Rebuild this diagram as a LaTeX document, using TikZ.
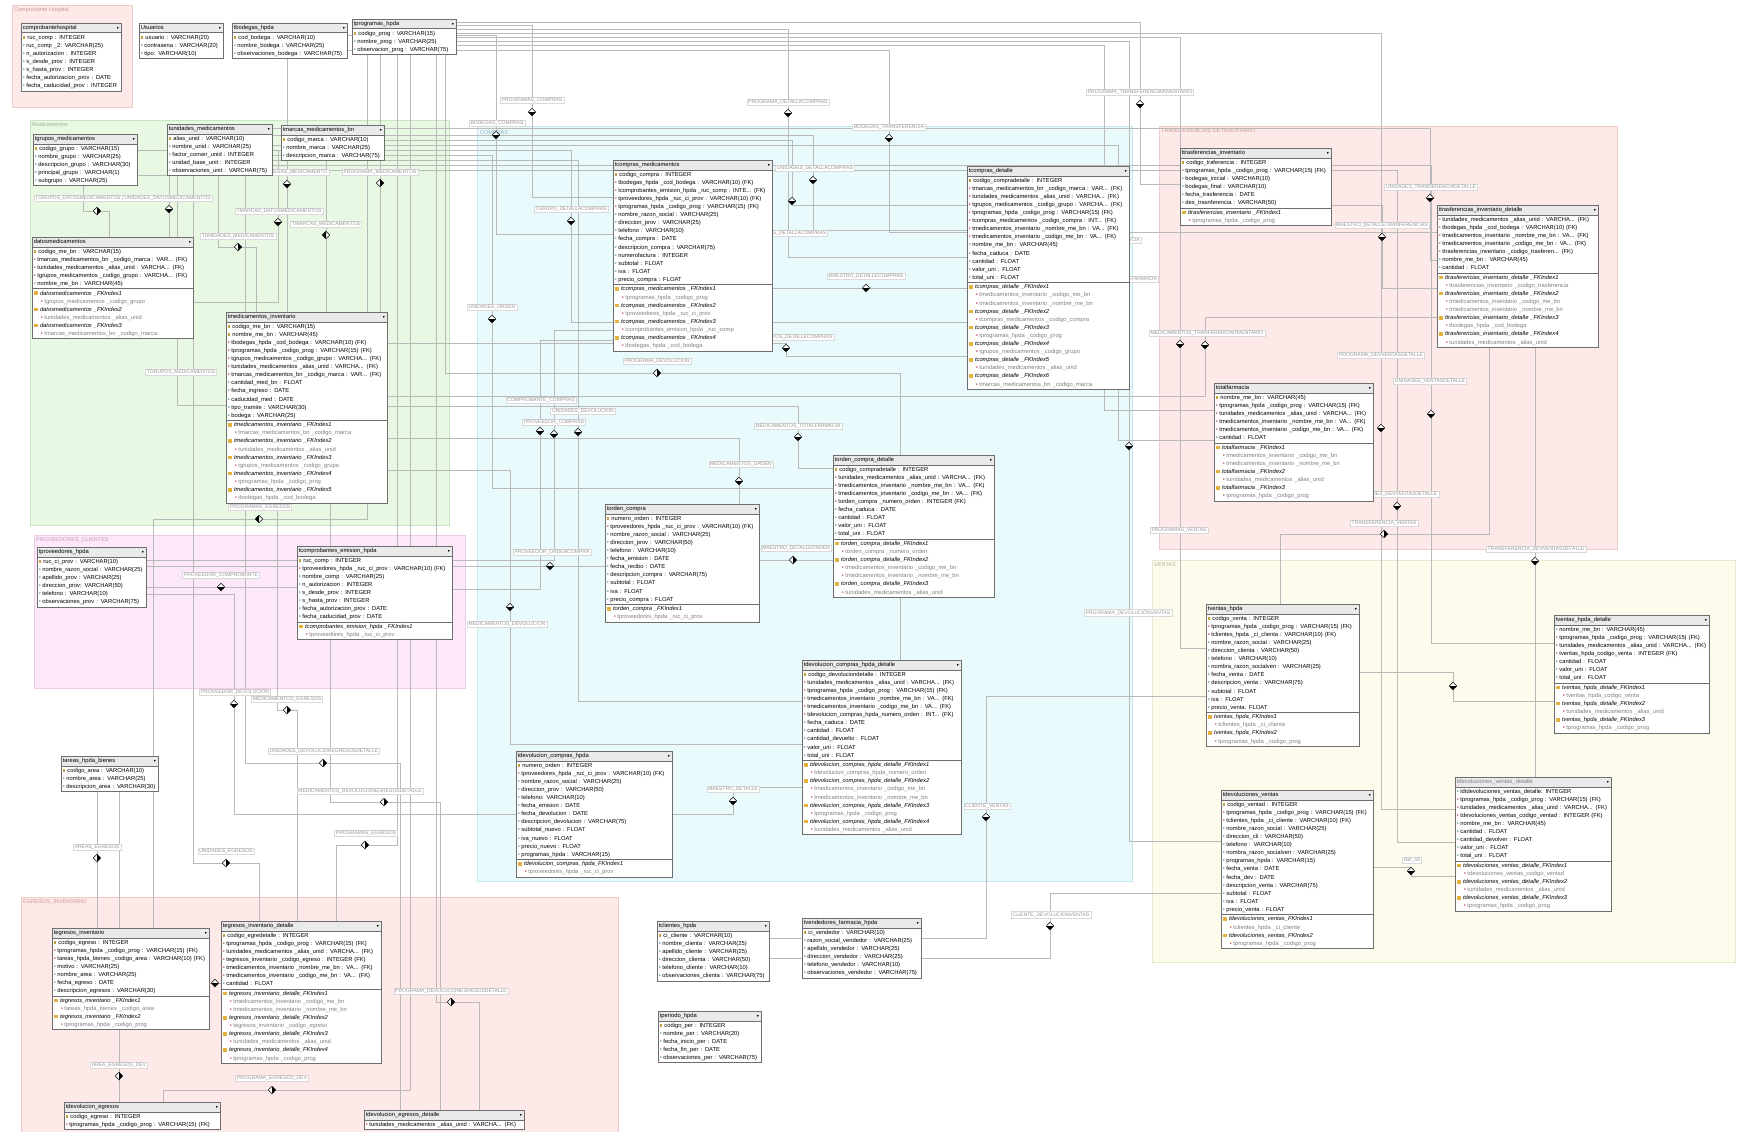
\documentclass[tikz,border=0pt]{standalone}
\usepackage{fontspec}
\setmainfont{Liberation Sans}
\usepackage{amssymb}
\usepackage{xcolor}
\usepackage{tikz}
\usetikzlibrary{shapes.multipart,shapes.geometric}

\definecolor{keyc}{RGB}{196,160,64}
\definecolor{fldc}{RGB}{70,150,170}
\definecolor{fkc}{RGB}{190,80,80}
\definecolor{foldc}{RGB}{226,178,60}
\definecolor{tbd}{RGB}{110,110,110}
\definecolor{hdc}{RGB}{234,234,234}
\definecolor{relc}{RGB}{185,185,185}
\definecolor{lblc}{RGB}{150,150,150}
\definecolor{redfill}{RGB}{253,234,232}
\definecolor{redline}{RGB}{238,202,200}
\definecolor{redt}{RGB}{200,150,150}
\definecolor{grnfill}{RGB}{232,248,226}
\definecolor{grnline}{RGB}{200,230,192}
\definecolor{grnt}{RGB}{150,185,140}
\definecolor{cyafill}{RGB}{232,250,252}
\definecolor{cyaline}{RGB}{196,232,238}
\definecolor{cyat}{RGB}{140,175,185}
\definecolor{magfill}{RGB}{252,232,248}
\definecolor{magline}{RGB}{236,204,232}
\definecolor{magt}{RGB}{200,150,190}
\definecolor{yelfill}{RGB}{252,251,236}
\definecolor{yelline}{RGB}{232,232,206}
\definecolor{yelt}{RGB}{180,180,140}

\setlength{\parindent}{0pt}
\newcommand{\tblfont}{\fontsize{5.8}{8.1}\selectfont}
\newcommand{\lblfont}{\fontsize{5}{6}\selectfont}
\newcommand{\grpfont}{\fontsize{5.5}{6.5}\selectfont}
\newcommand{\hd}[1]{\mbox{\strut#1}\hfill\scalebox{.6}{$\blacktriangledown$}}
\newcommand{\pk}[1]{\mbox{\strut\textcolor{keyc}{\rule[.4pt]{2.6pt}{2.8pt}}\hspace{2pt}#1}\par}
\newcommand{\fd}[1]{\mbox{\strut\textcolor{fldc}{\textbullet}\hspace{1.6pt}#1}\par}
\newcommand{\fk}[1]{\mbox{\strut\textcolor{fkc}{\textbullet}\hspace{1.6pt}#1}\par}
\newcommand{\ix}[1]{\mbox{\strut\textcolor{foldc}{\rule{4.2pt}{3.6pt}}\hspace{2pt}\textit{#1}}\par}
\newcommand{\ic}[1]{\mbox{\strut\hspace{7pt}\textcolor{fkc}{\textbullet}\hspace{1.6pt}\textcolor{gray}{#1}}\par}

\pgfdeclarelayer{bg}
\pgfdeclarelayer{ln}
\pgfsetlayers{bg,ln,main}

\begin{document}
\catcode`\_=12
\begin{tikzpicture}[x=1pt,y=-1pt,
  tbl/.style={rectangle split,rectangle split parts=3,rectangle split part fill={hdc,white,white},draw=tbd,line width=.6pt,anchor=north west,text width=#1,inner xsep=1.5pt,inner ysep=.4pt,font=\tblfont,align=left},
  tbs/.style={tbl=#1,rectangle split parts=2,rectangle split part fill={hdc,white}},
  dm/.style={diamond,draw=black,fill=white,line width=.5pt,inner sep=0pt,minimum width=7.5pt,minimum height=8pt},
  dS/.style={dm,path picture={\fill[black] (path picture bounding box.west) -- (path picture bounding box.south) -- (path picture bounding box.east) -- cycle;}},
  dE/.style={dm,path picture={\fill[black] (path picture bounding box.north) -- (path picture bounding box.east) -- (path picture bounding box.south) -- cycle;}},
  dW/.style={dm,path picture={\fill[black] (path picture bounding box.north) -- (path picture bounding box.west) -- (path picture bounding box.south) -- cycle;}},
  lbl/.style={draw=gray!30,fill=white,text=lblc,font=\lblfont,inner xsep=1.5pt,inner ysep=1pt},
  rel/.style={draw=relc,line width=.5pt},
  gtit/.style={anchor=north west,font=\grpfont,inner sep=1pt}
]
\useasboundingbox (0,0) rectangle (1743,1132);

% groups
\begin{pgfonlayer}{bg}
\fill[white] (0,0) rectangle (1743,1132);
\draw[fill=redfill,draw=redline] (12,5) rectangle (132,107);
\draw[fill=grnfill,draw=grnline] (30,120) rectangle (449,525);
\draw[fill=cyafill,draw=cyaline] (477,126) rectangle (1132,881);
\draw[fill=magfill,draw=magline] (34,535) rectangle (465,688);
\draw[fill=redfill,draw=redline] (1159,126) rectangle (1617,549);
\draw[fill=yelfill,draw=yelline] (1152,560) rectangle (1735,962);
\draw[fill=redfill,draw=redline] (21,897) rectangle (618,1145);
\node[gtit,text=redt] (gHosp) at (13,6) {Comprobante Hospital};
\node[gtit,text=grnt] (gMed) at (31,121) {Medicamentos};
\node[gtit,text=cyat] (gCom) at (479,129) {COMPRAS};
\node[gtit,text=magt] (gProv) at (35,536) {PROVEEDORES_CLIENTES};
\node[gtit,text=redt] (gTra) at (1160,127) {TRANSFERENCIAS DE INVENTARIO};
\node[gtit,text=yelt] (gVen) at (1153,561) {VENTAS};
\node[gtit,text=redt] (gEgr) at (22,898) {EGRESOS_INVENTARIO};
\end{pgfonlayer}

% relation labels
\node[lbl] (lBM) at (295,172) {BODEGAS_MEDICAMENTO};
\node[lbl] (lPM) at (380,172) {PROGRAMA_MEDICAMENTOS};
\node[lbl] (lUD) at (166,198) {TUNIDADES_DATOSMEDICAMENTOS};
\node[lbl] (lGD) at (78,198) {TGRUPOS_DATOSMEDICAMENTOS};
\node[lbl] (lMD) at (279,211) {TMARCAS_DATOSMEDICAMENTOS};
\node[lbl] (lMM) at (326,224) {TMARCAS_MEDICAMENTOS};
\node[lbl] (lUM) at (238,236) {TUNIDADES_MEDICAMENTOS};
\node[lbl] (lGM) at (181,372) {TGRUPOS_MEDICAMENTOS};
\node[lbl] (lPE) at (260,507) {PROGRAMAS_EGRESOS};
\node[lbl] (lPCo) at (221,575) {PROVEEDOR_COMPROBANTE};
\node[lbl] (lPD) at (235,692) {PROVEEDOR_DEVOLUCION};
\node[lbl] (lME) at (287,699) {MEDICAMENTOS_EGRESOS};
\node[lbl] (lUDE) at (324,751) {UNIDADES_DEVOLUCIONEGRESOSDETALLE};
\node[lbl] (lMDE) at (360,791) {MEDICAMENTOS_DEVOLUCIONEGRESOSDETALLE};
\node[lbl] (lPE2) at (366,833) {PROGRAMAS_EGRESOS};
\node[lbl] (lAE) at (97,847) {AREAS_EGRESOS};
\node[lbl] (lUE) at (226,851) {UNIDADES_EGRESOS};
\node[lbl] (lAED) at (119,1065) {AREA_EGRESOS_DEV};
\node[lbl] (lPED) at (272,1078) {PROGRAMA_EGRESOS_DEV};
\node[lbl] (lPDE) at (451,991) {PROGRAMA_DEVOLUCIONEGRESOSDETALLE};
\node[lbl] (lPCm) at (532,100) {PROGRAMAS_COMPRAS};
\node[lbl] (lPDC) at (788,102) {PROGRAMA_DETALLACOMPRAS};
\node[lbl] (lBC) at (497,123) {BODEGAS_COMPRAS};
\node[lbl] (lUDC) at (815,168) {UNIDADES_DETALLACOMPRAS};
\node[lbl] (lGDC) at (571,209) {TGRUPO_DETALLACOMPRAS};
\node[lbl] (lMDC) at (789,233) {TMARCAS_DETALLACOMPRAS};
\node[lbl] (lMaDC) at (866,276) {MAESTRO_DETALLECOMPRAS};
\node[lbl] (lUO) at (492,307) {UNIDADES_ORDEN};
\node[lbl] (lMeDC) at (787,337) {MEDICAMENTOS_DETALLECOMPRAS};
\node[lbl] (lPDv) at (657,361) {PROGRAMA_DEVOLUCION};
\node[lbl] (lBT) at (889,127) {BODEGAS_TRANSFERENCIA};
\node[lbl] (lPTI) at (1140,92) {PROGRAMA_TRANSFERENCIAINVENTARIO};
\node[lbl] (lPTF) at (1103,240) {PROGRAMA_TOTALFARMACIA};
\node[lbl] (lUTF) at (1122,279) {UNIDADES_TOTALFARMACIA};
\node[lbl] (lMTI) at (1207,333) {MEDICAMENTOS_TRANFERENCIAINVENTARIO};
\node[lbl] (lUTD) at (1431,187) {UNIDADES_TRANDERENCIADETALLE};
\node[lbl] (lMDT) at (1382,225) {MAESTRO_DETALLETRANFERENCIAS};
\node[lbl] (lPDVD) at (1381,355) {PROGRAMA_DEVVENTASDETALLE};
\node[lbl] (lUVD) at (1430,381) {UNIDADES_VENTASDETALLE};
\node[lbl] (lUDVD) at (1397,494) {UNIDADES_DEVVENTASDETALLE};
\node[lbl] (lTV) at (1384,523) {TRANSFERENCIA_VENTAS};
\node[lbl] (lTDVD) at (1536,549) {TRANSFERENCIA_DEVVENTASDETALLE};
\node[lbl] (lPV) at (1179,530) {PROGRAMAS_VENTAS};
\node[lbl] (lPDVn) at (1128,613) {PROGRAMA_DEVOLUCIÓNVENTAS};
\node[lbl] (lCC) at (541,400) {COMPROBANTE_COMPRAS};
\node[lbl] (lUDv) at (583,411) {UNIDADES_DEVOLUCION};
\node[lbl] (lPCs) at (554,422) {PROVEEDOR_COMPRAS};
\node[lbl] (lMTF) at (798,426) {MEDICAMENTOS_TOTALFARMACIA};
\node[lbl] (lMO) at (741,464) {MEDICAMENTOS_ORDEN};
\node[lbl] (lPOC) at (552,552) {PROVEEDOR_ORDENCOMPRA};
\node[lbl] (lMDO) at (796,548) {MAESTRO_DETALLEORDEN};
\node[lbl] (lMDv) at (507,624) {MEDICAMENTOS_DEVOLUCION};
\node[lbl] (lMaD) at (733,789) {MAESTRO_DETALLE};
\node[lbl] (lCV) at (987,806) {CLIENTE_VENTAS};
\node[lbl] (lCDV) at (1051,915) {CLIENTE_DEVOLUCIÓNVENTAS};
\node[lbl] (lR58) at (1412,860) {Rel_58};

% relation diamonds
\node[dS] (d1) at (287,184) {};
\node[dE] (d2) at (380,183) {};
\node[dE] (d3) at (97,211) {};
\node[dS] (d4) at (169,209) {};
\node[dS] (d5) at (278,222) {};
\node[dW] (d6) at (326,235) {};
\node[dE] (d7) at (238,247) {};
\node[dW] (d9) at (259,519) {};
\node[dS] (d10) at (221,587) {};
\node[dS] (d11) at (234,704) {};
\node[dE] (d12) at (287,710) {};
\node[dE] (d13) at (323,763) {};
\node[dE] (d14) at (384,802) {};
\node[dE] (d15) at (365,845) {};
\node[dE] (d16) at (97,858) {};
\node[dE] (d17) at (226,863) {};
\node[dS] (d18) at (215,983) {};
\node[dE] (d19) at (119,1076) {};
\node[dE] (d20) at (272,1090) {};
\node[dE] (d21) at (451,1002) {};
\node[dS] (d22) at (532,112) {};
\node[dS] (d23) at (496,135) {};
\node[dS] (d24) at (788,113) {};
\node[dS] (d25) at (792,201) {};
\node[dS] (d26) at (813,180) {};
\node[dS] (d27) at (571,221) {};
\node[dS] (d28) at (866,288) {};
\node[dS] (d29) at (492,319) {};
\node[dS] (d30) at (786,348) {};
\node[dE] (d31) at (657,373) {};
\node[dS] (d32) at (540,431) {};
\node[dS] (d33) at (554,434) {};
\node[dS] (d34) at (578,432) {};
\node[dS] (d35) at (798,437) {};
\node[dS] (d36) at (739,481) {};
\node[dS] (d37) at (550,566) {};
\node[dE] (d38) at (793,560) {};
\node[dS] (d39) at (510,607) {};
\node[dS] (d40) at (733,801) {};
\node[dS] (d41) at (986,817) {};
\node[dS] (d42) at (1050,926) {};
\node[dS] (d43) at (1140,104) {};
\node[dS] (d44) at (889,138) {};
\node[dS] (d45) at (1382,237) {};
\node[dS] (d46) at (1430,198) {};
\node[dS] (d47) at (1431,414) {};
\node[dS] (d48) at (1453,686) {};
\node[dS] (d49) at (1381,428) {};
\node[dS] (d50) at (1397,506) {};
\node[dE] (d51) at (1384,534) {};
\node[dS] (d52) at (1535,561) {};
\node[dS] (d53) at (1411,871) {};
\node[dS] (d54) at (1180,344) {};
\node[dS] (d55) at (1129,446) {};
\node[dS] (d56) at (1104,252) {};
\node[dS] (d57) at (1118,291) {};
\node[dS] (d58) at (1205,345) {};

% tables
\node[tbs=96.5pt] (chosp) at (21,23) {\hd{comprobantehospital}
  \nodepart{two}\pk{ruc_comp : INTEGER}\fd{ruc_comp _2: VARCHAR(25)}\fd{n_autorizacion : INTEGER}\fd{s_desde_prov : INTEGER}\fd{s_hasta_prov : INTEGER}\fd{fecha_autorizacion_prov : DATE}\fd{fecha_caducidad_prov : INTEGER}};
\node[tbs=80.5pt] (usu) at (139,23) {\hd{Usuarios}
  \nodepart{two}\pk{usuario : VARCHAR(20)}\fd{contrasena : VARCHAR(20)}\fd{tipo: VARCHAR(10)}};
\node[tbs=111.5pt] (tbod) at (232,23) {\hd{tbodegas_hpda}
  \nodepart{two}\pk{cod_bodega : VARCHAR(10)}\fd{nombre_bodega : VARCHAR(25)}\fd{observaciones_bodega : VARCHAR(75)}};
\node[tbs=100.5pt] (tprog) at (352,19) {\hd{tprogramas_hpda}
  \nodepart{two}\pk{codigo_prog : VARCHAR(15)}\fd{nombre_prog : VARCHAR(25)}\fd{observacion_prog : VARCHAR(75)}};
\node[tbs=100.5pt] (tgr) at (33,134) {\hd{tgrupos_medicamentos}
  \nodepart{two}\pk{codigo_grupo : VARCHAR(15)}\fd{nombre_grupo : VARCHAR(25)}\fd{descripcion_grupo : VARCHAR(30)}\fd{principal_grupo : VARCHAR(1)}\fd{subgrupo : VARCHAR(25)}};
\node[tbs=101.5pt] (tunid) at (167,124) {\hd{tunidades_medicamentos}
  \nodepart{two}\pk{alias_unid : VARCHAR(10)}\fd{nombre_unid : VARCHAR(25)}\fd{factor_conver_unid : INTEGER}\fd{unidad_base_unit : INTEGER}\fd{observaciones_unit : VARCHAR(75)}};
\node[tbs=99.5pt] (tmar) at (281,125) {\hd{tmarcas_medicamentos_bn}
  \nodepart{two}\pk{codigo_marca : VARCHAR(10)}\fd{nombre_marca : VARCHAR(25)}\fd{descripcion_marca : VARCHAR(75)}};
\node[tbl=157.5pt] (datm) at (32,237) {\hd{datosmedicamentos}
  \nodepart{two}\pk{codigo_me_bn : VARCHAR(15)}\fk{tmarcas_medicamentos_bn _codigo_marca : VAR... (FK)}\fk{tunidades_medicamentos _alias_unid : VARCHA... (FK)}\fk{tgrupos_medicamentos _codigo_grupo : VARCHA... (FK)}\fd{nombre_me_bn : VARCHAR(45)}
  \nodepart{three}\ix{datosmedicamentos _FKIndex1}\ic{tgrupos_medicamentos _codigo_grupo}\ix{datosmedicamentos _FKIndex2}\ic{tunidades_medicamentos _alias_unid}\ix{datosmedicamentos _FKIndex3}\ic{tmarcas_medicamentos_bn _codigo_marca}};
\node[tbl=157.5pt] (tmed) at (226,312) {\hd{tmedicamentos_inventario}
  \nodepart{two}\pk{codigo_me_bn : VARCHAR(15)}\pk{nombre_me_bn : VARCHAR(45)}\fk{tbodegas_hpda _cod_bodega : VARCHAR(10) (FK)}\fk{tprogramas_hpda _codigo_prog : VARCHAR(15) (FK)}\fk{tgrupos_medicamentos _codigo_grupo : VARCHA... (FK)}\fk{tunidades_medicamentos _alias_unid : VARCHA... (FK)}\fk{tmarcas_medicamentos_bn _codigo_marca : VAR... (FK)}\fd{cantidad_med_bn : FLOAT}\fd{fecha_ingreso : DATE}\fd{caducidad_med : DATE}\fd{tipo_tramite : VARCHAR(30)}\fd{bodega : VARCHAR(25)}
  \nodepart{three}\ix{tmedicamentos_inventario _FKIndex1}\ic{tmarcas_medicamentos_bn _codigo_marca}\ix{tmedicamentos_inventario _FKIndex2}\ic{tunidades_medicamentos _alias_unid}\ix{tmedicamentos_inventario _FKIndex3}\ic{tgrupos_medicamentos _codigo_grupo}\ix{tmedicamentos_inventario _FKIndex4}\ic{tprogramas_hpda _codigo_prog}\ix{tmedicamentos_inventario _FKIndex5}\ic{tbodegas_hpda _cod_bodega}};
\node[tbs=105.5pt] (tprov) at (37,547) {\hd{tproveedores_hpda}
  \nodepart{two}\pk{ruc_ci_prov : VARCHAR(10)}\fd{nombre_razon_social : VARCHAR(25)}\fd{apellido_prov : VARCHAR(25)}\fd{direccion_prov: VARCHAR(50)}\fd{telefono : VARCHAR(10)}\fd{observaciones_prov : VARCHAR(75)}};
\node[tbl=151.5pt] (tcem) at (297,546) {\hd{tcomprobantes_emision_hpda}
  \nodepart{two}\pk{ruc_comp : INTEGER}\fk{tproveedores_hpda _ruc_ci_prov : VARCHAR(10) (FK)}\fd{nombre_comp : VARCHAR(25)}\fd{n_autorizacion : INTEGER}\fd{s_desde_prov : INTEGER}\fd{s_hasta_prov : INTEGER}\fd{fecha_autorizacion_prov : DATE}\fd{fecha_caducidad_prov : DATE}
  \nodepart{three}\ix{tcomprobantes_emision_hpda _FKIndex1}\ic{tproveedores_hpda _ruc_ci_prov}};
\node[tbl=155.5pt] (tcm) at (613,160) {\hd{tcompras_medicamentos}
  \nodepart{two}\pk{codigo_compra  : INTEGER}\fk{tbodegas_hpda _cod_bodega : VARCHAR(10) (FK)}\fk{tcomprobantes_emision_hpda _ruc_comp : INTE... (FK)}\fk{tproveedores_hpda _ruc_ci_prov : VARCHAR(10) (FK)}\fk{tprogramas_hpda _codigo_prog : VARCHAR(15) (FK)}\fd{nombre_razon_social : VARCHAR(25)}\fd{direccion_prov  : VARCHAR(25)}\fd{telefono : VARCHAR(10)}\fd{fecha_compra : DATE}\fd{descripcion_compra : VARCHAR(75)}\fd{numerofactura : INTEGER}\fd{subtotal : FLOAT}\fd{iva : FLOAT}\fd{precio_compra : FLOAT}
  \nodepart{three}\ix{tcompras_medicamentos _FKIndex1}\ic{tprogramas_hpda _codigo_prog}\ix{tcompras_medicamentos _FKIndex2}\ic{tproveedores_hpda _ruc_ci_prov}\ix{tcompras_medicamentos _FKIndex3}\ic{tcomprobantes_emision_hpda _ruc_comp}\ix{tcompras_medicamentos _FKIndex4}\ic{tbodegas_hpda _cod_bodega}};
\node[tbl=158.5pt] (tcd) at (967,166) {\hd{tcompras_detalle}
  \nodepart{two}\pk{codigo_compradetalle : INTEGER}\fk{tmarcas_medicamentos_bn _codigo_marca : VAR... (FK)}\fk{tunidades_medicamentos _alias_unid : VARCHA... (FK)}\fk{tgrupos_medicamentos _codigo_grupo : VARCHA... (FK)}\fk{tprogramas_hpda _codigo_prog : VARCHAR(15) (FK)}\fk{tcompras_medicamentos _codigo_compra  : INT... (FK)}\fk{tmedicamentos_inventario _nombre_me_bn : VA... (FK)}\fk{tmedicamentos_inventario _codigo_me_bn : VA... (FK)}\fd{nombre_me_bn : VARCHAR(45)}\fd{fecha_caduca : DATE}\fd{cantidad : FLOAT}\fd{valor_uni : FLOAT}\fd{total_uni : FLOAT}
  \nodepart{three}\ix{tcompras_detalle _FKIndex1}\ic{tmedicamentos_inventario _codigo_me_bn}\ic{tmedicamentos_inventario _nombre_me_bn}\ix{tcompras_detalle _FKIndex2}\ic{tcompras_medicamentos _codigo_compra}\ix{tcompras_detalle _FKIndex3}\ic{tprogramas_hpda _codigo_prog}\ix{tcompras_detalle _FKIndex4}\ic{tgrupos_medicamentos _codigo_grupo}\ix{tcompras_detalle _FKIndex5}\ic{tunidades_medicamentos _alias_unid}\ix{tcompras_detalle _FKIndex6}\ic{tmarcas_medicamentos_bn _codigo_marca}};
\node[tbl=147.5pt] (ttr) at (1180,148) {\hd{ttrasferencias_inventario}
  \nodepart{two}\pk{codigo_traferencia : INTEGER}\fk{tprogramas_hpda _codigo_prog : VARCHAR(15) (FK)}\fd{bodegas_inicial : VARCHAR(10)}\fd{bodegas_final : VARCHAR(10)}\fd{fecha_trasferencia : DATE}\fd{des_trasnferencia : VARCHAR(50)}
  \nodepart{three}\ix{ttrasferencias_inventario _FKIndex1}\ic{tprogramas_hpda _codigo_prog}};
\node[tbl=157.5pt] (ttd) at (1437,205) {\hd{ttrasferencias_inventario_detalle}
  \nodepart{two}\fk{tunidades_medicamentos _alias_unid : VARCHA... (FK)}\fk{tbodegas_hpda _cod_bodega : VARCHAR(10) (FK)}\fk{tmedicamentos_inventario _nombre_me_bn : VA... (FK)}\fk{tmedicamentos_inventario _codigo_me_bn : VA... (FK)}\fk{ttrasferencias_inventario _codigo_trasferen... (FK)}\fd{nombre_me_bn : VARCHAR(45)}\fd{cantidad : FLOAT}
  \nodepart{three}\ix{ttrasferencias_inventario_detalle _FKIndex1}\ic{ttrasferencias_inventario _codigo_trasferencia}\ix{ttrasferencias_inventario_detalle _FKIndex2}\ic{tmedicamentos_inventario _codigo_me_bn}\ic{tmedicamentos_inventario _nombre_me_bn}\ix{ttrasferencias_inventario_detalle _FKIndex3}\ic{tbodegas_hpda _cod_bodega}\ix{ttrasferencias_inventario_detalle _FKIndex4}\ic{tunidades_medicamentos _alias_unid}};
\node[tbl=155.5pt] (tfar) at (1214,383) {\hd{totalfarmacia}
  \nodepart{two}\pk{nombre_me_bn : VARCHAR(45)}\fk{tprogramas_hpda _codigo_prog : VARCHAR(15) (FK)}\fk{tunidades_medicamentos _alias_unid : VARCHA... (FK)}\fk{tmedicamentos_inventario _nombre_me_bn : VA... (FK)}\fk{tmedicamentos_inventario _codigo_me_bn : VA... (FK)}\fd{cantidad : FLOAT}
  \nodepart{three}\ix{totalfarmacia _FKIndex1}\ic{tmedicamentos_inventario _codigo_me_bn}\ic{tmedicamentos_inventario _nombre_me_bn}\ix{totalfarmacia _FKIndex2}\ic{tunidades_medicamentos _alias_unid}\ix{totalfarmacia _FKIndex3}\ic{tprogramas_hpda _codigo_prog}};
\node[tbl=150.5pt] (tord) at (605,504) {\hd{torden_compra}
  \nodepart{two}\pk{numero_orden : INTEGER}\fk{tproveedores_hpda _ruc_ci_prov : VARCHAR(10) (FK)}\fd{nombre_razon_social : VARCHAR(25)}\fd{direccion_prov : VARCHAR(50)}\fd{telefono : VARCHAR(10)}\fd{fecha_emision : DATE}\fd{fecha_recibo : DATE}\fd{descripcion_compra : VARCHAR(75)}\fd{subtotal : FLOAT}\fd{iva : FLOAT}\fd{precio_compra : FLOAT}
  \nodepart{three}\ix{torden_compra _FKIndex1}\ic{tproveedores_hpda _ruc_ci_prov}};
\node[tbl=157.5pt] (tocd) at (833,455) {\hd{torden_compra_detalle}
  \nodepart{two}\pk{codigo_compradetalle : INTEGER}\fk{tunidades_medicamentos _alias_unid : VARCHA... (FK)}\fk{tmedicamentos_inventario _nombre_me_bn : VA... (FK)}\fk{tmedicamentos_inventario _codigo_me_bn : VA... (FK)}\fk{torden_compra _numero_orden : INTEGER (FK)}\fd{fecha_caduca : DATE}\fd{cantidad : FLOAT}\fd{valor_uni : FLOAT}\fd{total_uni : FLOAT}
  \nodepart{three}\ix{torden_compra_detalle_FKIndex1}\ic{torden_compra _numero_orden}\ix{torden_compra_detalle_FKIndex2}\ic{tmedicamentos_inventario _codigo_me_bn}\ic{tmedicamentos_inventario _nombre_me_bn}\ix{torden_compra_detalle_FKIndex3}\ic{tunidades_medicamentos _alias_unid}};
\node[tbl=155.5pt] (tdcd) at (802,660) {\hd{tdevolucion_compras_hpda_detalle}
  \nodepart{two}\pk{codigo_devoluciondetalle : INTEGER}\fk{tunidades_medicamentos _alias_unid : VARCHA... (FK)}\fk{tprogramas_hpda _codigo_prog : VARCHAR(15) (FK)}\fk{tmedicamentos_inventario _nombre_me_bn : VA... (FK)}\fk{tmedicamentos_inventario _codigo_me_bn : VA... (FK)}\fk{tdevolucion_compras_hpda_numero_orden : INT... (FK)}\fd{fecha_caduca : DATE}\fd{cantidad : FLOAT}\fd{cantidad_devuelto : FLOAT}\fd{valor_uni : FLOAT}\fd{total_uni : FLOAT}
  \nodepart{three}\ix{tdevolucion_compras_hpda_detalle_FKIndex1}\ic{tdevolucion_compras_hpda_numero_orden}\ix{tdevolucion_compras_hpda_detalle_FKIndex2}\ic{tmedicamentos_inventario _codigo_me_bn}\ic{tmedicamentos_inventario _nombre_me_bn}\ix{tdevolucion_compras_hpda_detalle_FKIndex3}\ic{tprogramas_hpda _codigo_prog}\ix{tdevolucion_compras_hpda_detalle_FKIndex4}\ic{tunidades_medicamentos _alias_unid}};
\node[tbl=152.5pt] (tdc) at (516,751) {\hd{tdevolucion_compras_hpda}
  \nodepart{two}\pk{numero_orden : INTEGER}\fk{tproveedores_hpda _ruc_ci_prov : VARCHAR(10) (FK)}\fd{nombre_razon_social : VARCHAR(25)}\fd{direccion_prov : VARCHAR(50)}\fd{telefono: VARCHAR(10)}\fd{fecha_emision : DATE}\fd{fecha_devolucion : DATE}\fd{descripcion_devolucion : VARCHAR(75)}\fd{subtotal_nuevo : FLOAT}\fd{iva_nuevo : FLOAT}\fd{precio_nuevo : FLOAT}\fd{programas_hpda : VARCHAR(15)}
  \nodepart{three}\ix{tdevolucion_compras_hpda_FKIndex1}\ic{tproveedores_hpda _ruc_ci_prov}};
\node[tbs=108.5pt] (tcli) at (657,921) {\hd{tclientes_hpda}
  \nodepart{two}\pk{ci_cliente : VARCHAR(10)}\fd{nombre_clienta : VARCHAR(25)}\fd{apellido_cliente : VARCHAR(25)}\fd{direccion_clienta : VARCHAR(50)}\fd{telefono_cliente : VARCHAR(10)}\fd{observaciones_clienta : VARCHAR(75)}};
\node[tbs=115.5pt] (tven) at (802,918) {\hd{tvendedores_farmacia_hpda}
  \nodepart{two}\pk{ci_vendedor : VARCHAR(10)}\fd{razon_social_vendedor : VARCHAR(25)}\fd{apellido_vendedor : VARCHAR(25)}\fd{direccion_vendedor : VARCHAR(25)}\fd{telefono_vendedor : VARCHAR(10)}\fd{observaciones_vendedor : VARCHAR(75)}};
\node[tbs=99.5pt] (tper) at (658,1011) {\hd{tperiodo_hpda}
  \nodepart{two}\pk{codigo_per : INTEGER}\fd{nombre_per : VARCHAR(20)}\fd{fecha_inicio_per : DATE}\fd{fecha_fin_per : DATE}\fd{observaciones_per : VARCHAR(75)}};
\node[tbl=149.5pt] (tvh) at (1206,604) {\hd{tventas_hpda}
  \nodepart{two}\pk{codigo_venta  : INTEGER}\fk{tprogramas_hpda _codigo_prog : VARCHAR(15) (FK)}\fk{tclientes_hpda _ci_clienta : VARCHAR(10) (FK)}\fd{nombre_razon_social : VARCHAR(25)}\fd{direccion_clienta : VARCHAR(50)}\fd{telefono : VARCHAR(10)}\fd{nombra_razon_socialven : VARCHAR(25)}\fd{fecha_venta : DATE}\fd{descripcion_venta : VARCHAR(75)}\fd{subtotal : FLOAT}\fd{iva : FLOAT}\fd{precio_venta: FLOAT}
  \nodepart{three}\ix{tventas_hpda_FKIndex1}\ic{tclientes_hpda _ci_clienta}\ix{tventas_hpda_FKIndex2}\ic{tprogramas_hpda _codigo_prog}};
\node[tbl=151.5pt] (tvhd) at (1554,615) {\hd{tventas_hpda_detalle}
  \nodepart{two}\fd{nombre_me_bn : VARCHAR(45)}\fk{tprogramas_hpda _codigo_prog : VARCHAR(15) (FK)}\fk{tunidades_medicamentos _alias_unid : VARCHA... (FK)}\fk{tventas_hpda_codigo_venta  : INTEGER (FK)}\fd{cantidad : FLOAT}\fd{valor_uni : FLOAT}\fd{total_uni : FLOAT}
  \nodepart{three}\ix{tventas_hpda_detalle_FKIndex1}\ic{tventas_hpda_codigo_venta}\ix{tventas_hpda_detalle_FKIndex2}\ic{tunidades_medicamentos _alias_unid}\ix{tventas_hpda_detalle_FKIndex3}\ic{tprogramas_hpda _codigo_prog}};
\node[tbl=148.5pt] (tdv) at (1221,790) {\hd{tdevoluciones_ventas}
  \nodepart{two}\pk{codigo_ventad  : INTEGER}\fk{tprogramas_hpda _codigo_prog : VARCHAR(15) (FK)}\fk{tclientes_hpda _ci_cliente : VARCHAR(10) (FK)}\fd{nombre_razon_social : VARCHAR(25)}\fd{direccion_cli : VARCHAR(50)}\fd{telefono : VARCHAR(10)}\fd{nombra_razon_socialven : VARCHAR(25)}\fd{programas_hpda : VARCHAR(15)}\fd{fecha_venta : DATE}\fd{fecha_dev : DATE}\fd{descripcion_venta : VARCHAR(75)}\fd{subtotal : FLOAT}\fd{iva : FLOAT}\fd{precio_venta : FLOAT}
  \nodepart{three}\ix{tdevoluciones_ventas_FKIndex1}\ic{tclientes_hpda _ci_cliente}\ix{tdevoluciones_ventas_FKIndex2}\ic{tprogramas_hpda _codigo_prog}};
\node[tbl=152.5pt] (tdvd) at (1455,777) {\hd{\textcolor{gray}{tdevoluciones_ventas_detalle}}
  \nodepart{two}\fd{idtdevoluciones_ventas_detalle: INTEGER}\fk{tprogramas_hpda _codigo_prog : VARCHAR(15) (FK)}\fk{tunidades_medicamentos _alias_unid : VARCHA... (FK)}\fk{tdevoluciones_ventas_codigo_ventad  : INTEGER (FK)}\fd{nombre_me_bn : VARCHAR(45)}\fd{cantidad : FLOAT}\fd{cantidad_devolver : FLOAT}\fd{valor_uni : FLOAT}\fd{total_uni : FLOAT}
  \nodepart{three}\ix{tdevoluciones_ventas_detalle_FKIndex1}\ic{tdevoluciones_ventas_codigo_ventad}\ix{tdevoluciones_ventas_detalle_FKIndex2}\ic{tunidades_medicamentos _alias_unid}\ix{tdevoluciones_ventas_detalle_FKIndex3}\ic{tprogramas_hpda _codigo_prog}};
\node[tbs=93.5pt] (tare) at (61,756) {\hd{tareas_hpda_bienes}
  \nodepart{two}\pk{codigo_area : VARCHAR(10)}\fd{nombre_area : VARCHAR(25)}\fd{descripcion_area : VARCHAR(30)}};
\node[tbl=153.5pt] (teg) at (52,928) {\hd{tegresos_inventario}
  \nodepart{two}\pk{codigo_egreso : INTEGER}\fk{tprogramas_hpda _codigo_prog : VARCHAR(15) (FK)}\fk{tareas_hpda_bienes _codigo_area : VARCHAR(10) (FK)}\fd{motivo : VARCHAR(25)}\fd{nombre_area : VARCHAR(25)}\fd{fecha_egreso : DATE}\fd{descripcion_egresos : VARCHAR(30)}
  \nodepart{three}\ix{tegresos_inventario _FKIndex1}\ic{tareas_hpda_bienes _codigo_area}\ix{tegresos_inventario _FKIndex2}\ic{tprogramas_hpda _codigo_prog}};
\node[tbl=156.5pt] (tegd) at (221,921) {\hd{tegresos_inventario_detalle}
  \nodepart{two}\pk{codigo_egredetalle : INTEGER}\fk{tprogramas_hpda _codigo_prog : VARCHAR(15) (FK)}\fk{tunidades_medicamentos _alias_unid : VARCHA... (FK)}\fk{tegresos_inventario _codigo_egreso : INTEGER (FK)}\fk{tmedicamentos_inventario _nombre_me_bn : VA... (FK)}\fk{tmedicamentos_inventario _codigo_me_bn : VA... (FK)}\fd{cantidad : FLOAT}
  \nodepart{three}\ix{tegresos_inventario_detalle_FKIndex1}\ic{tmedicamentos_inventario _codigo_me_bn}\ic{tmedicamentos_inventario _nombre_me_bn}\ix{tegresos_inventario_detalle_FKIndex2}\ic{tegresos_inventario _codigo_egreso}\ix{tegresos_inventario_detalle_FKIndex3}\ic{tunidades_medicamentos _alias_unid}\ix{tegresos_inventario_detalle_FKIndex4}\ic{tprogramas_hpda _codigo_prog}};
\node[tbs=152.5pt] (tdeg) at (64,1102) {\hd{tdevolucion_egresos}
  \nodepart{two}\pk{codigo_egreso : INTEGER}\fk{tprogramas_hpda _codigo_prog : VARCHAR(15) (FK)}\vspace*{24pt}};
\node[tbs=156.5pt] (tdegd) at (364,1110) {\hd{tdevolucion_egresos_detalle}
  \nodepart{two}\fk{tunidades_medicamentos _alias_unid : VARCHA... (FK)}\vspace*{24pt}};

% connectors
\begin{pgfonlayer}{ln}
\draw[rel] ([xshift=55pt]tbod.south west) -- (d1) -- ([xshift=61pt]tmed.north west);
\draw[rel] ([xshift=28pt]tprog.south west) -- (d2) -- ([xshift=154pt]tmed.north west);
\draw[rel] ([xshift=50pt]tgr.south west) |- (d3) -| ([xshift=77pt]datm.north west);
\draw[rel] ([xshift=2pt]tunid.south west) -- (d4) -- ([xshift=137pt]datm.north west);
\draw[rel] ([yshift=-25pt]tmar.north west) -| (d5) |- ([yshift=-65pt]datm.north east);
\draw[rel] ([xshift=45pt]tmar.south west) -- (d6) -- ([xshift=100pt]tmed.north west);
\draw[rel] ([xshift=51pt]tunid.south west) |- (d7) -| ([xshift=30pt]tmed.north west);
\draw[rel] ([yshift=-41pt]tgr.north east) -- ++(40,0) |- ([yshift=-93pt]tmed.north west);
\draw[rel] ([xshift=15pt]tprog.south west) |- (d9) -| ([xshift=101pt]teg.north west);
\draw[rel] ([yshift=-40pt]tprov.north east) -- (d10) -- ([yshift=-41pt]tcem.north west);
\draw[rel] ([yshift=-47pt]tprov.north east) -| (d11) |- ([yshift=-63pt]tdc.north west);
\draw[rel] ([xshift=51pt]tmed.south west) |- (d12) -| ([xshift=76pt]tegd.north west);
\draw[rel] ([xshift=78pt]tunid.south west) |- (d13) -| ([xshift=36pt]tdegd.north west);
\draw[rel] ([xshift=104pt]tmed.south west) |- (d14) -| ([xshift=76pt]tdegd.north west);
\draw[rel] ([xshift=45pt]tprog.south west) |- (d15) -| ([xshift=115pt]tegd.north west);
\draw[rel] ([xshift=36pt]tare.south west) -- (d16) -- ([xshift=45pt]teg.north west);
\draw[rel] ([xshift=26pt]tunid.south west) |- (d17) -| ([xshift=38pt]tegd.north west);
\draw[rel] ([yshift=-55pt]teg.north east) -- (d18) -- ([yshift=-62pt]tegd.north west);
\draw[rel] ([xshift=58pt]tare.south west) -- (d19) -- ([xshift=55pt]tdeg.north west);
\draw[rel] ([xshift=58pt]tprog.south west) |- (d20) -| ([xshift=99pt]tdeg.north west);
\draw[rel] ([xshift=84pt]tprog.south west) |- (d21) -| ([xshift=115pt]tdegd.north west);
\draw[rel] ([yshift=-6pt]tprog.north east) -| (d22) |- ([yshift=-37pt]tcm.north west);
\draw[rel] ([yshift=-12pt]tbod.north east) -| (d23) |- ([yshift=-74pt]tcm.north west);
\draw[rel] ([yshift=-10pt]tprog.north east) -| (d24) |- ([yshift=-91pt]tcd.north west);
\draw[rel] ([yshift=-15pt]tmar.north east) -| (d25) |- ([yshift=-39pt]tcd.north west);
\draw[rel] ([yshift=-11pt]tunid.north east) -| (d26) |- ([yshift=-64pt]tcd.north west);
\draw[rel] ([yshift=-16pt]tgr.north east) -| (d27) |- ([yshift=-156pt]tcd.north west);
\draw[rel] ([yshift=-128pt]tcm.north east) -- (d28) -- ([yshift=-122pt]tcd.north west);
\draw[rel] ([yshift=-31pt]tunid.north east) -| (d29) |- ([yshift=-33pt]tocd.north west);
\draw[rel] ([yshift=-31pt]tmed.north east) -| (d30) |- ([yshift=-190pt]tcd.north west);
\draw[rel] ([xshift=93pt]tprog.south west) |- (d31) -| ([xshift=98pt]tdcd.north west);
\draw[rel] ([yshift=-43pt]tcem.north east) -| (d32) |- ([yshift=-180pt]tcm.north west);
\draw[rel] ([yshift=-13pt]tprov.north east) -| (d33) |- ([yshift=-170pt]tcm.north west);
\draw[rel] ([yshift=-36pt]tunid.north east) -| (d34) |- ([yshift=-41pt]tdcd.north west);
\draw[rel] ([yshift=-94pt]tmed.north east) -| (d35) |- ([yshift=-13pt]tocd.north west);
\draw[rel] ([yshift=-126pt]tmed.north east) -| (d36) -- ([xshift=134pt]tord.north west);
\draw[rel] ([yshift=-19pt]tprov.north east) -- (d37) -- ([yshift=-62pt]tord.north west);
\draw[rel] ([yshift=-56pt]tord.north east) -- (d38) -- ([yshift=-105pt]tocd.north west);
\draw[rel] ([yshift=-158pt]tmed.north east) -| (d39) |- ([yshift=-84pt]tdcd.north west);
\draw[rel] ([yshift=-63pt]tdc.north east) -| (d40) |- ([yshift=-127pt]tdcd.north west);
\draw[rel] ([yshift=-17pt]tcli.north east) -| (d41) |- ([yshift=-92pt]tvh.north west);
\draw[rel] ([yshift=-37pt]tcli.north east) -| (d42) |- ([yshift=-103pt]tdv.north west);
\draw[rel] ([yshift=-3pt]tprog.north east) -| (d43) |- ([yshift=-36pt]ttr.north west);
\draw[rel] ([yshift=-27pt]tbod.north east) -| (d44) |- ([yshift=-27pt]ttd.north west);
\draw[rel] ([yshift=-57pt]ttr.north east) -| (d45) |- ([yshift=-83pt]ttd.north west);
\draw[rel] ([yshift=-4pt]tunid.north east) -| (d46) |- ([yshift=-55pt]ttd.north west);
\draw[rel] ([yshift=-41pt]tunid.north east) -| (d47) |- ([yshift=-28pt]tvhd.north west);
\draw[rel] ([yshift=-68pt]tvh.north east) -| (d48) |- ([yshift=-86pt]tvhd.north west);
\draw[rel] ([yshift=-14pt]tprog.north east) -| (d49) |- ([yshift=-32pt]tdvd.north west);
\draw[rel] ([yshift=-46pt]tunid.north east) -| (d50) |- ([yshift=-65pt]tdvd.north west);
\draw[rel] ([xshift=52pt]ttd.south west) |- (d51) -| ([xshift=74pt]tvh.north west);
\draw[rel] ([xshift=98pt]ttd.south west) -- (d52) -- ([xshift=80pt]tdvd.north west);
\draw[rel] ([yshift=-77pt]tdv.north east) -| (d53) |- ([yshift=-99pt]tdvd.north west);
\draw[rel] ([yshift=-18pt]tprog.north east) -| (d54) |- ([yshift=-44pt]tvh.north west);
\draw[rel] ([yshift=-22pt]tprog.north east) -| (d55) |- ([yshift=-51pt]tdv.north west);
\draw[rel] ([yshift=-26pt]tprog.north east) -| (d56) |- ([yshift=-27pt]tfar.north west);
\draw[rel] ([yshift=-21pt]tunid.north east) -| (d57) |- ([yshift=-57pt]tfar.north west);
\draw[rel] ([yshift=-84pt]tmed.north east) -| (d58) |- ([yshift=-112pt]ttd.north west);
\end{pgfonlayer}
\end{tikzpicture}
\end{document}
